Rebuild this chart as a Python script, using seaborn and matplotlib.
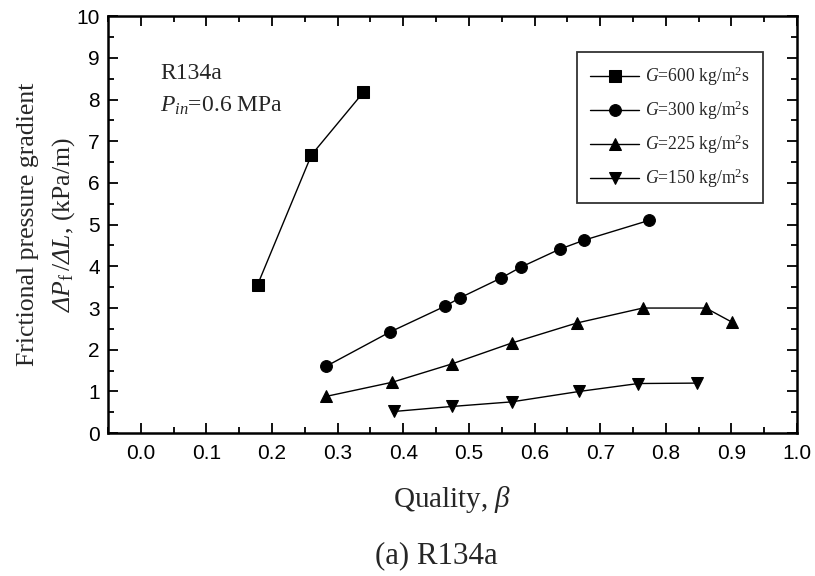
import matplotlib
matplotlib.use("Agg")
import matplotlib.pyplot as plt
import seaborn as sns
import pandas as pd
from matplotlib.ticker import MultipleLocator

# ---- data ----
x600 = [0.178, 0.260, 0.339]
y600 = [3.56, 6.67, 8.17]
x300 = [0.282, 0.379, 0.463, 0.487, 0.549, 0.579, 0.638, 0.676, 0.774]
y300 = [1.60, 2.42, 3.04, 3.25, 3.72, 3.98, 4.41, 4.63, 5.10]
x225 = [0.282, 0.383, 0.474, 0.565, 0.664, 0.765, 0.861, 0.901]
y225 = [0.88, 1.22, 1.66, 2.16, 2.64, 3.00, 3.00, 2.66]
x150 = [0.386, 0.474, 0.565, 0.668, 0.758, 0.847]
y150 = [0.52, 0.64, 0.75, 1.00, 1.19, 1.20]
labels = ["600", "300", "225", "150"]
markers = ["s", "o", "^", "v"]
xtick_labels = ["0.0", "0.1", "0.2", "0.3", "0.4", "0.5", "0.6", "0.7", "0.8", "0.9", "1.0"]

sns.set_theme(style="ticks")
plt.rcParams["font.family"] = ["Liberation Serif", "DejaVu Serif"]
plt.rcParams["mathtext.fontset"] = "custom"
plt.rcParams["mathtext.rm"] = "Liberation Serif"
plt.rcParams["mathtext.it"] = "Liberation Serif:italic"
plt.rcParams["mathtext.sf"] = "Liberation Serif:italic"
plt.rcParams["mathtext.bf"] = "Liberation Serif:bold"

fig = plt.figure(figsize=(8.15, 5.76), dpi=100)
ax = fig.add_axes([0.1325, 0.248, 0.8455, 0.724])

series = [(x600, y600), (x300, y300), (x225, y225), (x150, y150)]
for (xs, ys), lab, mk in zip(series, labels, markers):
    df = pd.DataFrame({"x": xs, "y": ys})
    sns.lineplot(data=df, x="x", y="y", ax=ax, color="black", lw=1.0,
                 marker=mk, markersize=8 if mk != "o" else 8.5,
                 markeredgecolor="black", markerfacecolor="black",
                 label=r"$\it{G}$=" + lab + r" kg/m$^2$s", sort=False)

ax.set_xlim(-0.05, 1.0)
ax.set_ylim(0, 10)
ax.xaxis.set_minor_locator(MultipleLocator(0.05))
ax.yaxis.set_major_locator(MultipleLocator(1))
ax.yaxis.set_minor_locator(MultipleLocator(0.5))
ax.set_xticks([float(t) for t in xtick_labels])
ax.set_xticklabels(xtick_labels)
ax.tick_params(which="both", direction="in", top=True, right=True,
               width=1.3, colors="black")
ax.tick_params(which="major", length=7)
ax.tick_params(which="minor", length=4)
for lab in ax.get_xticklabels() + ax.get_yticklabels():
    lab.set_family(["Liberation Sans", "DejaVu Sans"])
    lab.set_fontsize(15)
ax.tick_params(axis="x", pad=8)
ax.tick_params(axis="y", pad=6)
for sp in ax.spines.values():
    sp.set_linewidth(1.8)
    sp.set_color("black")

ax.set_xlabel(r"Quality, $\mathit{\beta}$", fontsize=21, labelpad=15)
ax.set_ylabel("Frictional pressure gradient\n"
              r"$\mathsf{\Delta P}_{\mathrm{f}}\,/\mathsf{\Delta L}$, (kPa/m)",
              fontsize=18.5, linespacing=1.55)
ax.yaxis.set_label_coords(-0.045, 0.5)

ax.text(0.03, 8.62, "R134a", fontsize=17, ha="left", va="center")
ax.text(0.03, 7.85, r"$\mathit{P}_{\mathit{in}}$=0.6 MPa", fontsize=17,
        ha="left", va="center")

leg = ax.legend(loc="upper right", bbox_to_anchor=(0.95, 0.915),
                frameon=True, fancybox=False, edgecolor="black",
                fontsize=12.7, handlelength=2.8, handletextpad=0.3,
                labelspacing=0.6, borderpad=0.75, borderaxespad=0.0)
leg.get_frame().set_linewidth(1.3)

fig.text(0.535, 0.036, "(a) R134a", fontsize=22.2, ha="center", va="center")

fig.savefig("out.png", dpi=100, facecolor="white")
